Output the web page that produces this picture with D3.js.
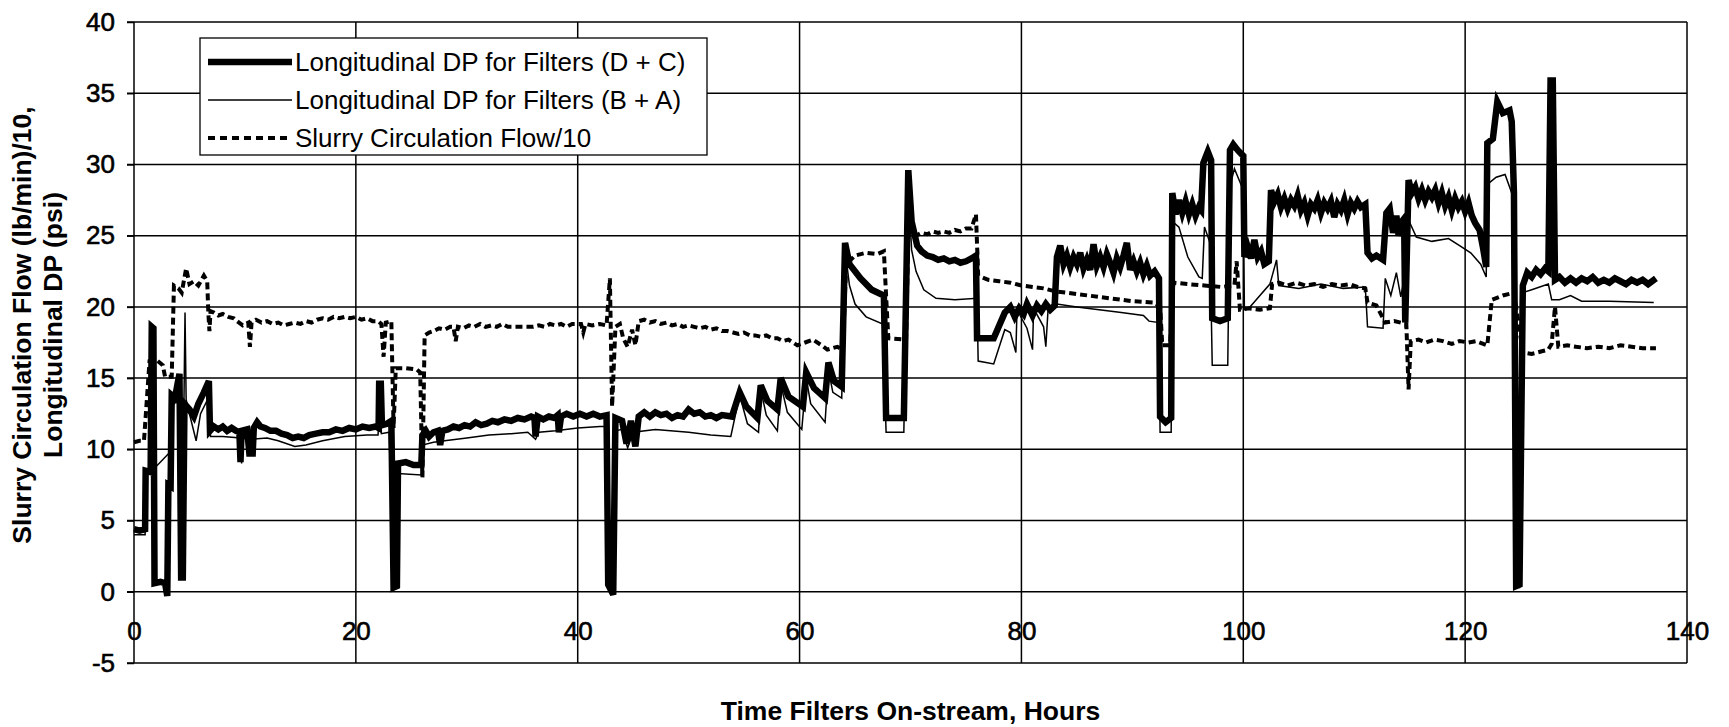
<!DOCTYPE html>
<head>
  <meta charset="utf-8">
  <script src="https://d3js.org/d3.v7.min.js"></script>
  <style>
    body { margin:0; background:#fff; }
    svg { display:block; background:#fff; }
    text { font-family: "Liberation Sans", Arial, sans-serif; fill:#000; }
  </style>
</head>
<body>
  <svg width="1729" height="727"></svg>
  <script>
    // axis ticks
    var xTicks = [0, 20, 40, 60, 80, 100, 120, 140];
    var yTicks = [-5, 0, 5, 10, 15, 20, 25, 30, 35, 40];
    var legendLabels = ['Longitudinal DP for Filters (D + C)', 'Longitudinal DP for Filters (B + A)', 'Slurry Circulation Flow/10'];

    // [hours, value]
    var dcData = [[0,4.4],[0.5,4.3],[1.0,4.4],[1.05,8.5],[1.5,8.4],[1.6,18.6],[1.75,18.5],[1.85,0.6],[2.4,0.7],[2.8,0.6],[3.0,-0.3],[3.1,7.5],[3.3,7.4],[3.4,13.8],[3.7,13.6],[3.9,14.5],[4.1,15.3],[4.25,1.0],[4.4,1.0],[4.55,13.2],[5.0,12.8],[5.4,12.3],[5.8,13.2],[6.3,14.0],[6.75,14.8],[6.85,11.3],
      [7.2,11.6],[7.6,11.4],[8,11.6],[8.4,11.3],[8.8,11.5],[9.2,11.3],[9.5,11.2],[9.6,9.1],[9.7,11.3],[10.2,11.4],[10.4,9.7],[10.7,9.7],[10.8,11.5],[11.1,11.9],[11.4,11.6],[11.8,11.5],[12.3,11.3],[12.8,11.3],[13.3,11.1],[13.8,11.0],[14.3,10.8],[14.8,10.9],[15.3,10.8],[15.8,11.0],[16.4,11.1],[17,11.2],[17.6,11.2],[18.2,11.4],[18.8,11.3],[19.4,11.5],[20,11.4],[20.6,11.6],[21.2,11.5],[21.8,11.6],[22.05,11.5],[22.1,14.6],[22.25,14.6],[22.35,11.7],[22.8,11.8],[23.2,12.0],[23.4,0.3],[23.7,0.4],[23.8,9.0],[24.5,9.1],[25.2,8.9],[25.9,8.9],
      [26.0,11.0],[26.3,11.3],[26.6,10.9],[27.0,11.2],[27.4,11.3],[27.6,10.3],[27.8,11.3],[28.3,11.4],[28.8,11.6],[29.3,11.5],[29.8,11.7],[30.3,11.6],[30.8,11.9],[31.3,11.7],[31.8,11.8],[32.3,12.0],[32.8,11.9],[33.4,12.1],[34,12.0],[34.6,12.2],[35.2,12.1],[35.8,12.3],[36.1,12.2],[36.2,10.9],[36.4,12.3],[36.9,12.1],[37.4,12.3],[37.9,12.2],[38.2,12.4],[38.3,11.2],[38.5,12.3],[39.0,12.5],[39.6,12.3],[40.2,12.5],[40.8,12.3],[41.4,12.5],[42.0,12.3],[42.6,12.4],[42.75,0.5],[43.2,-0.2],[43.4,12.2],[44.0,12.0],[44.4,10.4],[44.8,12.0],[45.2,10.2],[45.5,12.3],[46.0,12.6],[46.5,12.3],[47,12.6],[47.5,12.4],[48,12.5],[48.5,12.2],[49,12.4],[49.5,12.3],[50,12.8],[50.5,12.5],[51,12.6],[51.5,12.3],[52,12.4],[52.5,12.2],[53,12.4],[53.9,12.3],
      [54.6,14.0],[55.2,13.0],[56.2,12.2],[56.5,14.5],[57.1,13.4],[58.0,12.8],[58.3,15.0],[59.0,13.7],[60.3,13.0],[60.6,15.4],[61.3,14.3],[62.3,13.6],[62.6,16.1],[63.1,14.8],[63.8,14.4],[64.1,24.5],[64.5,23.0],[65.5,22.0],[66.5,21.2],[67.6,20.8],[67.8,12.2],[69.4,12.2],[69.8,29.6],[70.1,26.0],[70.6,24.3],[71.0,23.9],[71.5,23.6],[72.0,23.5],[72.5,23.3],[73,23.4],[73.5,23.2],[74,23.3],[74.5,23.1],[75,23.2],[75.5,23.4],[75.9,23.6],
      [76.0,17.8],[77.5,17.8],[78.5,19.6],[79,20.0],[79.4,19.3],[79.8,19.9],[80.2,19.5],[80.5,20.2],[81,19.4],[81.4,20.1],[81.8,19.7],[82.2,20.2],[82.6,19.8],[83,20.1],
      [83.2,23.5],[83.5,24.3],[83.8,23.0],[84.1,23.6],[84.4,22.8],[84.7,23.5],[85,23.0],[85.3,23.8],[85.6,22.7],[85.9,23.3],[86.2,22.6],[86.5,24.4],[86.8,22.9],[87.1,23.5],[87.4,22.8],[87.7,23.7],[88,23.1],[88.3,22.4],[88.6,23.4],[88.9,22.8],[89.2,23.6],[89.5,24.5],[89.8,22.6],[90.1,23.2],[90.4,22.5],[90.7,23.1],[91,22.3],[91.3,22.9],[91.6,22.2],[92,22.5],[92.4,22.0],[92.5,12.3],[93.0,11.9],[93.5,12.2],
      [93.6,28.0],[93.9,26.5],[94.2,27.5],[94.5,26.6],[94.8,27.4],[95.1,26.5],[95.4,27.2],[95.7,26.4],[96.0,27.0],[96.2,26.8],[96.4,30.1],[96.8,30.9],[97.1,30.3],[97.2,19.2],[97.9,19.0],[98.6,19.2],[98.8,31.0],[99.1,31.4],[99.5,31.0],[100,30.6],[100.1,23.5],[100.4,24.2],[100.7,23.4],[101,24.7],[101.3,23.5],[101.6,23.9],[101.9,23.0],[102.3,23.2],
      [102.5,28.2],[102.8,27.4],[103.1,27.9],[103.4,27.0],[103.7,27.6],[104,26.9],[104.3,27.5],[104.6,27.1],[104.9,27.8],[105.2,26.8],[105.5,27.3],[105.8,26.4],[106.1,27.2],[106.4,26.9],[106.7,27.5],[107,26.6],[107.3,27.3],[107.6,26.9],[107.9,27.4],[108.2,26.3],[108.5,27.2],[108.8,26.8],[109.1,27.5],[109.4,26.5],[109.7,27.3],[110,26.9],[110.3,27.4],[110.6,27.0],[111.0,27.2],[111.2,23.8],[111.6,23.4],[112.0,23.6],[112.6,23.3],[112.9,26.6],[113.2,26.9],[113.5,25.2],[113.8,26.4],[114,25.0],[114.3,26.0],[114.5,26.2],[114.6,18.9],
      [114.9,28.9],[115.2,28.0],[115.5,28.4],[115.8,27.6],[116.1,28.2],[116.4,27.5],[116.7,28.1],[117,27.7],[117.3,28.2],[117.6,27.3],[117.9,28.0],[118.2,27.1],[118.5,27.7],[118.8,26.8],[119.1,27.6],[119.4,27.0],[119.7,27.4],[120,26.7],[120.3,27.3],[120.6,26.4],[120.9,25.9],[121.3,25.4],[121.6,24.2],[121.9,22.8],
      [122.0,31.5],[122.5,31.8],[122.9,34.4],[123.4,33.6],[124.0,33.8],[124.2,33.0],[124.4,28.0],[124.6,0.4],[124.9,0.5],[125.2,21.5],[125.6,22.4],[126,22.1],[126.4,22.6],[126.8,22.3],[127.2,22.7],[127.5,22.5],[127.7,35.9],[127.9,35.9],[128.1,21.9],[128.5,22.1],[129,21.7],[129.5,22.0],[130,21.7],[130.5,22.0],[131,21.8],[131.5,22.1],[132,21.7],[132.5,21.9],[133,21.7],[133.5,22.0],[134,21.8],[134.5,21.6],[135,21.9],[135.5,21.7],[136,21.9],[136.5,21.6],[137.2,22.0]];

    var baData = [[0,4.0],[1.0,4.0],[1.05,8.3],[2.0,8.8],[3.3,9.85],[3.4,13.0],[4.0,13.5],[4.5,13.2],[4.6,19.6],[4.7,13.5],[4.9,12.8],[5.6,10.6],[6.0,12.5],[6.7,13.6],[6.9,10.9],[8,10.9],[9.6,10.8],[9.7,9.0],[9.8,10.8],[10.3,10.7],[12,10.8],[13,10.6],[14.5,10.2],[15.5,10.3],[17,10.6],[19,10.9],[21,11.0],[22,11.0],[22.2,14.0],[22.3,11.1],[23,11.2],[23.4,0.3],[23.7,0.3],[23.8,8.3],[25.9,8.2],[26.0,10.3],[27,10.5],[28,10.6],[30,10.8],[32,11.0],[34,11.1],[35.5,11.2],[36.2,10.7],[36.5,11.2],[38,11.3],[40,11.5],[42,11.6],[42.6,11.6],[42.75,0.5],[43.2,-0.2],[43.4,11.3],[44,11.4],[44.5,10.1],[45,11.2],[47,11.4],[50,11.2],[52,11.0],[53.8,10.9],[54.6,13.8],[55.3,11.8],[56.3,11.2],[56.5,14.2],[57.0,12.4],[58.0,11.3],[58.3,14.6],[58.9,12.6],[60.2,11.4],[60.6,15.0],[61.0,13.2],[62.3,11.9],[62.6,15.6],[63.0,14.0],[63.8,13.6],[64.1,24.0],[64.5,21.5],[65.0,20.2],[66,19.3],[67.5,18.8],[67.8,11.2],[69.4,11.2],[69.8,28.5],[70.1,24.0],[70.5,22.5],[71.2,21.2],[72.3,20.6],[74,20.5],[76.0,20.6],[76.1,16.2],[77.5,16.0],[78.5,18.4],[79,18.2],[79.5,16.8],[79.6,19.8],[80.5,18.5],[81,17.0],[81.1,19.9],[82,18.6],[82.2,17.2],[82.4,19.8],[83.2,20.2],[85,20.0],[87,19.8],[89,19.6],[91,19.4],[91.5,19.0],[92.4,18.9],[92.5,11.2],[93.5,11.2],[93.6,26.0],[94.2,25.6],[95,23.5],[96,22.1],[96.3,22.0],[96.5,25.6],[97.0,24.5],[97.2,15.9],[98.6,15.9],[98.8,28.5],[99.2,29.7],[100,28.2],[100.1,19.8],[100.5,19.9],[101.5,20.8],[102.4,21.6],[103.0,23.3],[103.2,21.5],[105,21.3],[107,21.6],[109,21.3],[111,21.4],[111.2,18.6],[112.6,18.5],[112.8,22.0],[113.3,20.8],[113.8,22.4],[114.2,20.7],[114.5,22.0],[114.6,18.5],[114.9,26.1],[115.6,24.9],[117,24.6],[118.5,24.8],[119.5,24.3],[120.5,23.8],[121.4,23.0],[121.9,22.1],[122.0,28.6],[122.8,29.1],[123.6,29.3],[124.2,28.0],[124.6,0.3],[124.9,0.3],[125.2,21.0],[126,21.2],[127.5,21.6],[127.8,20.5],[128.5,20.5],[129.5,20.8],[130.5,20.4],[133,20.4],[137,20.3]];

    var flowData = [[0,10.5],[0.5,10.6],[0.9,10.6],[1.4,16.2],[2.0,16.3],[2.6,15.9],[2.8,15.1],[3.4,15.1],[3.6,21.5],[4.0,21.3],[4.3,21.0],[4.7,22.7],[5.0,21.6],[5.4,21.8],[5.8,21.5],[6.3,22.2],[6.6,21.8],[6.7,19.6],[6.8,18.3],[6.9,19.7],
      [7.2,19.6],[7.6,19.4],[8.0,19.5],[8.5,19.3],[9.0,19.2],[9.3,19.0],[9.8,18.7],[10.3,18.9],[10.45,17.2],[10.6,18.9],[11,19.1],[11.5,18.9],[12,19.0],[12.5,18.8],[13,18.9],[13.5,18.7],[14,18.8],[14.5,18.9],[15,18.8],[15.5,19.0],[16,18.9],[16.5,19.1],[17,19.2],[17.5,19.1],[18,19.3],[18.5,19.2],[19,19.3],[19.5,19.2],[20,19.3],[20.5,19.1],[21,19.2],[21.5,19.0],[22,19.0],[22.3,18.8],[22.5,16.5],[22.7,18.9],[23.2,19.0],[23.4,11.5],[23.6,15.7],[24.5,15.7],[25.5,15.6],[25.8,15.4],[26.0,8.0],[26.2,18.0],
      [26.6,18.2],[27,18.3],[27.5,18.5],[28,18.4],[28.5,18.6],[28.8,18.6],[29.0,17.6],[29.2,18.6],[29.7,18.5],[30.2,18.7],[30.7,18.6],[31.2,18.8],[31.7,18.6],[32.2,18.7],[32.7,18.6],[33.2,18.8],[33.7,18.6],[34.3,18.6],[36,18.6],[36.5,18.7],[37,18.6],[37.5,18.8],[38,18.7],[38.5,18.8],[39,18.6],[39.5,18.8],[40.3,18.8],[40.5,18.2],[40.7,18.8],[41.3,18.7],[42,18.8],[42.6,18.7],[42.9,22.0],[43.1,13.0],[43.4,18.6],[43.8,18.8],[44.1,17.8],[44.5,17.2],[44.9,18.4],[45.2,17.3],[45.5,19.0],
      [46,19.1],[46.5,18.9],[47,19.0],[47.5,18.8],[48,18.9],[48.5,18.7],[49,18.8],[49.5,18.6],[50,18.7],[50.5,18.6],[51,18.5],[51.5,18.6],[52,18.4],[52.5,18.5],[53,18.3],[53.5,18.3],[54,18.2],[54.5,18.1],[55,18.2],[55.5,18.0],[56,18.0],[56.5,17.9],[57,18.0],[57.5,17.8],[58,17.8],[58.5,17.6],[59,17.7],[59.8,17.3],[60.5,17.5],[61.2,17.7],[62,17.3],[62.5,17.0],[63.4,17.2],[63.9,17.0],
      [64.2,23.0],[65,23.6],[66,23.8],[67,23.7],[67.6,23.9],[67.8,20.8],[68.0,17.8],[69.6,17.7],[69.8,25.0],[70.5,25.0],[71,25.2],[71.5,25.1],[72,25.3],[72.5,25.2],[73,25.3],[73.5,25.2],[74,25.4],[74.5,25.3],[75,25.5],[75.5,25.5],[75.9,26.5],[76.1,22.2],[77,21.9],[78,21.8],[79,21.7],[80,21.5],[81,21.4],[82,21.3],[83,21.1],[84,21.0],[86,20.8],[88,20.6],[90,20.4],[92,20.3],[92.5,20.0],[92.7,17.3],[93.4,17.3],
      [93.7,21.7],[95,21.6],[96.5,21.5],[98,21.4],[99.2,21.5],[99.4,23.2],[99.7,19.8],[100.5,19.9],[101.5,19.8],[102.4,19.9],[102.6,21.6],[103.2,21.7],[104,21.5],[104.8,21.7],[105.6,21.5],[106.4,21.6],[107.2,21.4],[108,21.6],[108.8,21.5],[109.6,21.6],[110.3,21.4],[111,21.3],[111.2,20.3],[112,20.1],[112.8,18.9],[113.6,19.0],[114.7,18.8],[114.9,14.2],[115.1,17.6],
      [115.8,17.7],[116.5,17.5],[117.2,17.7],[118,17.6],[118.8,17.4],[119.5,17.6],[120.3,17.5],[121,17.6],[122.0,17.3],[122.4,20.5],[123.4,20.8],[124.4,21.0],[125.2,16.8],[126,16.7],[127,16.9],[127.5,17.0],[127.8,17.4],[128.1,20.0],[128.4,17.2],[129.2,17.3],[130,17.2],[131,17.1],[132,17.2],[133,17.1],[134,17.3],[135,17.2],[136,17.1],[137.2,17.1]];

    var svg = d3.select('svg');
    var xScale = d3.scaleLinear().domain([0, 140]).range([134, 1687]);
    var yScale = d3.scaleLinear().domain([-5, 40]).range([663, 22]);

    // gridlines
    svg.append('g').selectAll('line')
      .data(yTicks).join('line')
      .attr('x1', xScale(0) - 7).attr('x2', xScale(140))
      .attr('y1', d => yScale(d)).attr('y2', d => yScale(d))
      .attr('stroke', '#000').attr('stroke-width', 1.5);
    svg.append('g').selectAll('line')
      .data(xTicks).join('line')
      .attr('x1', d => xScale(d)).attr('x2', d => xScale(d))
      .attr('y1', yScale(40)).attr('y2', yScale(-5))
      .attr('stroke', '#000').attr('stroke-width', 1.5);

    // axes
    var yAxis = d3.axisLeft(yScale).tickValues(yTicks).tickFormat(d => String(d))
      .tickSize(7).tickSizeOuter(0).tickPadding(12);
    var gy = svg.append('g').attr('transform', 'translate(' + xScale(0) + ',0)').call(yAxis);
    var xAxis = d3.axisBottom(xScale).tickValues(xTicks).tickFormat(d => String(d))
      .tickSize(0).tickPadding(30);
    var gx = svg.append('g').attr('transform', 'translate(0,' + yScale(0) + ')').call(xAxis);
    [gx, gy].forEach(g => {
      g.select('.domain').remove();
      g.selectAll('text').attr('font-size', 26).attr('font-family', '"Liberation Sans", Arial, sans-serif')
        .attr('fill', '#000').attr('stroke', '#000').attr('stroke-width', 0.6);
      g.selectAll('line').attr('stroke', '#000').attr('stroke-width', 1.5);
    });

    // series
    var line = d3.line().x(d => xScale(d[0])).y(d => yScale(d[1]));
    svg.append('path').datum(dcData).attr('d', line)
      .attr('fill', 'none').attr('stroke', '#000').attr('stroke-width', 6.5);
    svg.append('path').datum(baData).attr('d', line)
      .attr('fill', 'none').attr('stroke', '#000').attr('stroke-width', 1.5);
    svg.append('path').datum(flowData).attr('d', line)
      .attr('fill', 'none').attr('stroke', '#000').attr('stroke-width', 4)
      .attr('stroke-dasharray', '7,4');

    // legend
    var lg = svg.append('g');
    lg.append('rect').attr('x', 200).attr('y', 38).attr('width', 507).attr('height', 117)
      .attr('fill', '#fff').attr('stroke', '#000').attr('stroke-width', 1.3);
    var styles = [{w: 6.5, dash: null}, {w: 1.5, dash: null}, {w: 4, dash: '7,5'}];
    legendLabels.forEach((label, i) => {
      var cy = 62 + i * 38;
      lg.append('line').attr('x1', 208).attr('x2', 292).attr('y1', cy).attr('y2', cy)
        .attr('stroke', '#000').attr('stroke-width', styles[i].w)
        .attr('stroke-dasharray', styles[i].dash);
      lg.append('text').attr('x', 295).attr('y', cy).attr('dy', '0.35em')
        .attr('font-size', 26).text(label);
    });

    // axis titles
    svg.append('text').attr('x', xScale(70)).attr('y', 720)
      .attr('text-anchor', 'middle').attr('font-size', 26.5).attr('font-weight', 'bold')
      .text('Time Filters On-stream, Hours');
    var yt = svg.append('text').attr('transform', 'translate(31,325) rotate(-90)')
      .attr('text-anchor', 'middle').attr('font-size', 26.5).attr('font-weight', 'bold');
    yt.append('tspan').attr('x', 0).attr('y', 0).text('Slurry Circulation Flow (lb/min)/10,');
    yt.append('tspan').attr('x', 0).attr('y', 31).text('Longitudinal DP (psi)');
  </script>
</body>
